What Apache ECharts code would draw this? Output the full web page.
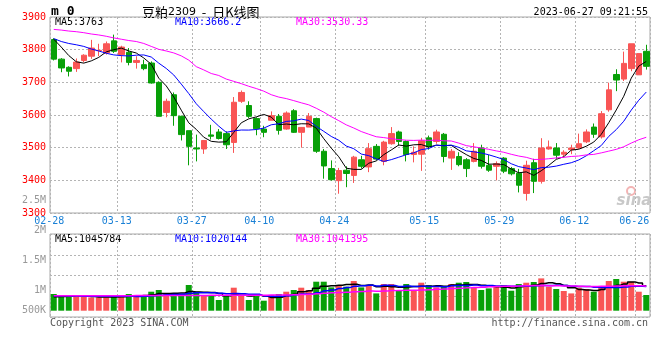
<!DOCTYPE html>
<html><head><meta charset="utf-8">
<script src="https://cdn.jsdelivr.net/npm/echarts@6/dist/echarts.min.js"></script>
<style>html,body{margin:0;padding:0;background:#fff}#c{width:660px;height:360px}</style>
</head><body><div id="c"></div>
<script>
const dates = ['02-28','03-01','03-02','03-03','03-06','03-07','03-08','03-09','03-10','03-13','03-14','03-15','03-16','03-17','03-20','03-21','03-22','03-23','03-24','03-27','03-28','03-29','03-30','03-31','04-03','04-04','04-06','04-07','04-10','04-11','04-12','04-13','04-14','04-17','04-18','04-19','04-20','04-21','04-24','04-25','04-26','04-27','04-28','05-04','05-05','05-08','05-09','05-10','05-11','05-12','05-15','05-16','05-17','05-18','05-19','05-22','05-23','05-24','05-25','05-26','05-29','05-30','05-31','06-01','06-02','06-05','06-06','06-07','06-08','06-09','06-12','06-13','06-14','06-15','06-16','06-19','06-20','06-21','06-26','06-27'];
const opens = [3831,3771,3746,3742,3767,3780,3797,3790,3827,3785,3792,3761,3754,3759,3700,3608,3662,3596,3552,3499,3496,3539,3548,3543,3516,3642,3629,3589,3557,3584,3596,3557,3613,3547,3563,3589,3489,3436,3399,3431,3415,3463,3441,3504,3458,3512,3548,3519,3479,3480,3530,3519,3541,3468,3473,3463,3458,3499,3446,3443,3468,3436,3422,3360,3454,3397,3496,3499,3480,3494,3499,3518,3563,3533,3616,3724,3710,3742,3723,3795];
const closes = [3771,3744,3734,3762,3783,3805,3798,3818,3795,3808,3761,3767,3742,3698,3596,3642,3598,3540,3504,3496,3522,3535,3528,3509,3639,3669,3596,3558,3547,3598,3553,3606,3547,3562,3596,3489,3444,3402,3430,3421,3471,3443,3497,3465,3517,3543,3519,3479,3486,3521,3504,3548,3473,3489,3448,3436,3489,3443,3431,3451,3428,3420,3385,3446,3397,3499,3502,3477,3486,3499,3512,3548,3541,3604,3677,3707,3758,3818,3788,3749];
const lows = [3767,3731,3718,3732,3761,3772,3780,3785,3790,3761,3752,3742,3737,3696,3596,3593,3567,3522,3446,3458,3481,3525,3525,3496,3484,3637,3591,3538,3532,3584,3540,3555,3545,3500,3563,3484,3405,3399,3359,3379,3392,3436,3425,3461,3446,3509,3506,3458,3455,3429,3494,3512,3455,3432,3443,3410,3455,3436,3426,3400,3422,3415,3363,3338,3361,3390,3494,3466,3471,3480,3496,3514,3530,3528,3610,3673,3704,3734,3723,3739];
const highs = [3835,3774,3749,3773,3786,3830,3818,3825,3846,3812,3805,3780,3769,3764,3703,3650,3669,3598,3552,3540,3522,3570,3557,3550,3655,3675,3642,3593,3567,3611,3603,3611,3618,3563,3606,3592,3496,3461,3438,3443,3475,3475,3514,3511,3521,3563,3552,3522,3504,3530,3537,3555,3545,3496,3486,3468,3514,3509,3478,3458,3471,3441,3435,3460,3466,3529,3522,3514,3492,3509,3543,3556,3574,3612,3699,3740,3794,3818,3788,3815];
const volumes = [716000,674000,601000,601000,601000,571000,571000,571000,631000,631000,716000,631000,631000,815000,888000,716000,716000,674000,1103000,815000,674000,631000,459000,631000,987000,631000,459000,631000,429000,674000,716000,815000,888000,987000,888000,1244000,1244000,1000000,1103000,1030000,1274000,1000000,1103000,742000,1145000,1145000,888000,1145000,888000,1201000,1103000,1000000,1060000,1145000,1201000,1231000,1000000,888000,957000,1060000,1103000,858000,1145000,1201000,1231000,1386000,1030000,931000,845000,742000,987000,931000,815000,1060000,1274000,1360000,1244000,1244000,815000,674000];
// MA values before enough visible history exists
const ma5Head = [3832,3808,3782,3763];
const ma10Head = [3834,3825,3819,3815,3810,3802,3796,3789,3784];
const ma30Head = [3862,3860,3857,3855,3852,3848,3845,3841,3836,3832,3828,3825,3819,3810,3801,3796,3790,3781,3768,3748,3738,3727,3721,3710,3703,3696,3688,3681,3673];
const volMa5Head = [600000,610000,620000,640000];
const volMa10Head = [640000,640000,630000,630000,625000,620000,620000,615000,615000];
const volMa30Head = [640000,640000,641000,641000,642000,642000,643000,643000,644000,645000,646000,647000,648000,649000,650000,651000,652000,653000,655000,656000,657000,658000,659000,660000,662000,663000,664000,665000,667000];
const labelDates = ['02-28','03-13','03-27','04-10','04-24','05-15','05-29','06-12','06-26'];
const volTickLabels = ['2.5M','2M','1.5M','1M','500K'];
const legendMain = ['MA5:3763','MA10:3666.2','MA30:3530.33'];
const legendVol = ['MA5:1045784','MA10:1020144','MA30:1041395'];
const headerCode = 'm 0';
const titleParts = ['豆粕','2309','  -  日K线图'];
const stamp = '2023-06-27 09:21:55';
const copyright = 'Copyright 2023 SINA.COM';
const siteUrl = 'http://finance.sina.com.cn';

function ma(arr, n, head) {
  return arr.map((v, i) => {
    if (i < n - 1) return head[i];
    let s = 0; for (let k = i - n + 1; k <= i; k++) s += arr[k];
    return +(s / n).toFixed(2);
  });
}
const UP = '#f95555', DOWN = '#08a008';
const MONO = 'DejaVu Sans Mono';
const candleData = opens.map((o, i) => [o, closes[i], lows[i], highs[i]]);
const volData = volumes.map((v, i) => ({value: v, itemStyle: {color: closes[i] >= opens[i] ? UP : DOWN}}));
const showAt = (idx, val) => labelDates.indexOf(val) >= 0;
const gridLine = {show: true, interval: showAt, lineStyle: {color: '#b4b4b4', type: [2, 2], width: 1}};
const hGridLine = {show: true, lineStyle: {color: '#b4b4b4', type: [2, 2], width: 1}};

const chart = echarts.init(document.getElementById('c'), null, {renderer: 'canvas'});
const legendColors = ['#000000', '#0000ff', '#ff00ff'];
const legendX = [55, 175, 296];
const volLabelY = [200.7, 230.7, 260.7, 290.7, 310.3];
const graphic = [];
legendMain.forEach((t, i) => graphic.push({type: 'text', x: legendX[i], y: 22.5, style: {text: t, fill: legendColors[i], font: '10px ' + MONO, verticalAlign: 'middle'}}));
legendVol.forEach((t, i) => graphic.push({type: 'text', x: legendX[i], y: 239, style: {text: t, fill: legendColors[i], font: '10px ' + MONO, verticalAlign: 'middle'}}));
volTickLabels.forEach((t, i) => graphic.push({type: 'text', x: 46, y: volLabelY[i], style: {text: t, fill: '#999', font: '10px ' + MONO, align: 'right', verticalAlign: 'middle'}}));
graphic.push({type: 'text', x: 51, y: 12, style: {text: headerCode, fill: '#000', font: 'bold 13px ' + MONO, verticalAlign: 'middle'}});
graphic.push({type: 'text', x: 142, y: 12, style: {
  text: '{a|' + titleParts[0] + '}{b|' + titleParts[1] + '}{a|' + titleParts[2] + '}',
  verticalAlign: 'middle',
  rich: {a: {fontFamily: 'Noto Sans CJK SC', fontSize: 13, color: '#000'}, b: {fontFamily: 'DejaVu Sans', fontSize: 11, color: '#444'}}
}});
graphic.push({type: 'text', x: 648, y: 12, style: {text: stamp, fill: '#000', font: '10px ' + MONO, align: 'right', verticalAlign: 'middle'}});
graphic.push({type: 'text', x: 50, y: 323, style: {text: copyright, fill: '#555', font: '10px ' + MONO, verticalAlign: 'middle'}});
graphic.push({type: 'text', x: 648, y: 323, style: {text: siteUrl, fill: '#555', font: '10px ' + MONO, align: 'right', verticalAlign: 'middle'}});
graphic.push({type: 'circle', shape: {cx: 631, cy: 191, r: 4}, style: {fill: 'none', stroke: '#f3b4b4', lineWidth: 2}});
graphic.push({type: 'text', x: 634, y: 201, style: {text: 'sina', fill: '#c8c8c8', font: 'italic bold 15px DejaVu Sans', align: 'center', verticalAlign: 'middle'}});

chart.setOption({
  animation: false,
  backgroundColor: '#fff',
  grid: [
    {left: 50, top: 17, width: 600, height: 196, show: true, borderColor: '#a8a8a8', borderWidth: 1},
    {left: 50, top: 234, width: 600, height: 83, show: true, borderColor: '#a8a8a8', borderWidth: 1}
  ],
  xAxis: [
    {type: 'category', gridIndex: 0, data: dates, boundaryGap: true,
     axisLine: {show: false}, axisTick: {show: false},
     axisLabel: {interval: showAt, color: '#1a80d6', fontFamily: MONO, fontSize: 10, margin: 3, padding: [0, 9, 0, 0]},
     splitLine: gridLine},
    {type: 'category', gridIndex: 1, data: dates, boundaryGap: true,
     axisLine: {show: false}, axisTick: {show: false}, axisLabel: {show: false},
     splitLine: gridLine}
  ],
  yAxis: [
    {type: 'value', gridIndex: 0, min: 3300, max: 3900, interval: 100, scale: true,
     axisLine: {show: false}, axisTick: {show: false},
     axisLabel: {color: '#ff0000', fontFamily: MONO, fontSize: 10, margin: 4, formatter: v => String(v)},
     splitLine: hGridLine},
    {type: 'value', gridIndex: 1, min: -270000, max: 3290000,
     axisLine: {show: false}, axisTick: {show: false}, axisLabel: {show: false}, splitLine: {show: false}},
    {type: 'value', gridIndex: 1, min: 0, max: 4, interval: 1,
     axisLine: {show: false}, axisTick: {show: false}, axisLabel: {show: false}, splitLine: hGridLine}
  ],
  series: [
    {type: 'candlestick', xAxisIndex: 0, yAxisIndex: 0, data: candleData, barWidth: 6,
     itemStyle: {color: UP, color0: DOWN, borderColor: UP, borderColor0: DOWN, borderWidth: 1}},
    {type: 'line', xAxisIndex: 0, yAxisIndex: 0, data: ma(closes, 5, ma5Head), showSymbol: false, lineStyle: {color: '#000', width: 1}},
    {type: 'line', xAxisIndex: 0, yAxisIndex: 0, data: ma(closes, 10, ma10Head), showSymbol: false, lineStyle: {color: '#0000ff', width: 1}},
    {type: 'line', xAxisIndex: 0, yAxisIndex: 0, data: ma(closes, 30, ma30Head), showSymbol: false, lineStyle: {color: '#ff00ff', width: 1}},
    {type: 'bar', xAxisIndex: 1, yAxisIndex: 1, data: volData, barWidth: 6},
    {type: 'line', xAxisIndex: 1, yAxisIndex: 1, data: ma(volumes, 5, volMa5Head), step: 'middle', showSymbol: false, lineStyle: {color: '#000', width: 1.5}},
    {type: 'line', xAxisIndex: 1, yAxisIndex: 1, data: ma(volumes, 10, volMa10Head), step: 'middle', showSymbol: false, lineStyle: {color: '#0000ff', width: 1.5}},
    {type: 'line', xAxisIndex: 1, yAxisIndex: 1, data: ma(volumes, 30, volMa30Head), step: 'middle', showSymbol: false, lineStyle: {color: '#ff00ff', width: 1.5}}
  ],
  graphic: graphic
});
</script></body></html>
